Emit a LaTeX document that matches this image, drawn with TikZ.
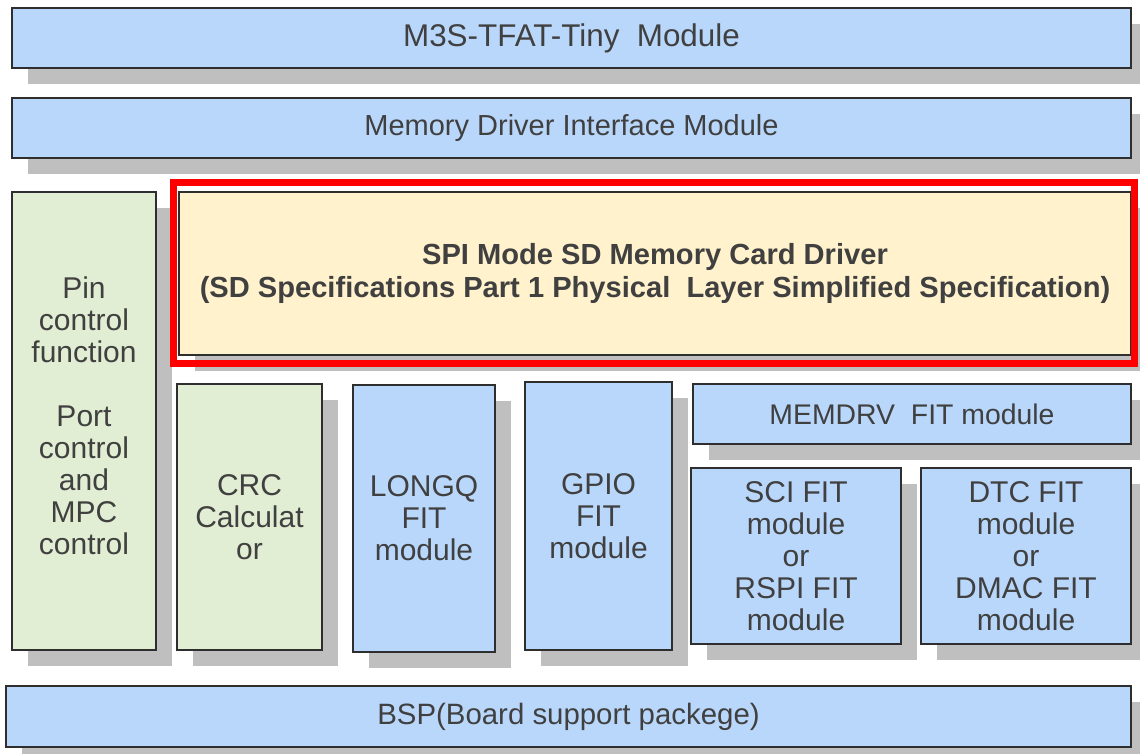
\documentclass[tikz,border=0pt]{standalone}
\usepackage{fontspec}
\setmainfont{Liberation Sans}
\usetikzlibrary{shadows}
\definecolor{boxblue}{HTML}{B9D7FB}
\definecolor{boxgreen}{HTML}{E2EED3}
\definecolor{boxyellow}{HTML}{FFF2CC}
\definecolor{shadowgray}{HTML}{BFBFBF}
\definecolor{edgegray}{HTML}{2E2E2E}
\definecolor{txtgray}{HTML}{404040}
\definecolor{hired}{HTML}{FF0000}
\tikzset{
  layerbox/.style={draw=edgegray, line width=2pt, rectangle, anchor=north west,
    align=center, inner sep=0pt, text=txtgray,
    font=\fontsize{30}{32}\selectfont,
    drop shadow={shadow xshift=16pt, shadow yshift=-16pt, fill=shadowgray, opacity=1}},
  bluebox/.style={layerbox, fill=boxblue},
  greenbox/.style={layerbox, fill=boxgreen},
  yellowbox/.style={layerbox, fill=boxyellow, font=\bfseries\fontsize{29.1}{33}\selectfont},
  boxtext/.style={align=center, inner sep=0pt, text=txtgray, font=\fontsize{30}{32}\selectfont},
  highlight/.style={draw=hired, line width=7pt}
}
\begin{document}
\begin{tikzpicture}[x=1pt,y=-1pt]
\useasboundingbox (0,0) rectangle (1140,753);
\node[bluebox, minimum width=1119pt, minimum height=60pt, font=\fontsize{31.4}{32}\selectfont] (tfat) at (11,7) {M3S-TFAT-Tiny\ \ Module};
\node[bluebox, minimum width=1119pt, minimum height=60pt, font=\fontsize{29}{32}\selectfont] (mdi) at (11,97) {Memory Driver Interface Module};
\node[greenbox, minimum width=144pt, minimum height=458pt] (pin) at (11,191) {};
\node[boxtext] (pintext) at ([yshift=5pt]pin.center) {Pin\\control\\function\\[32pt]Port\\control\\and\\MPC\\control};
\node[yellowbox, minimum width=952pt, minimum height=163pt] (spi) at (178,191) {SPI Mode SD Memory Card Driver\\(SD Specifications Part 1 Physical\ \ Layer Simplified Specification)};
\draw[highlight] (173.5,182.5) rectangle (1134.5,363.5);
\node[greenbox, minimum width=145pt, minimum height=266pt] (crc) at (176,383) {CRC\\Calculat\\or};
\node[bluebox, minimum width=142pt, minimum height=267pt] (longq) at (352,384) {LONGQ\\FIT\\module};
\node[bluebox, minimum width=147pt, minimum height=268pt] (gpio) at (524,381) {GPIO\\FIT\\module};
\node[bluebox, minimum width=438pt, minimum height=60pt, font=\fontsize{28.4}{32}\selectfont] (memdrv) at (692,383) {MEMDRV\ \ FIT module};
\node[bluebox, minimum width=210pt, minimum height=176pt] (sci) at (690,467) {SCI FIT\\module\\or\\RSPI FIT\\module};
\node[bluebox, minimum width=210pt, minimum height=176pt] (dtc) at (920,467) {DTC FIT\\module\\or\\DMAC FIT\\module};
\node[bluebox, minimum width=1125pt, minimum height=61pt, font=\fontsize{29.4}{32}\selectfont] (bsp) at (5,685) {BSP(Board support packege)};
\end{tikzpicture}
\end{document}
